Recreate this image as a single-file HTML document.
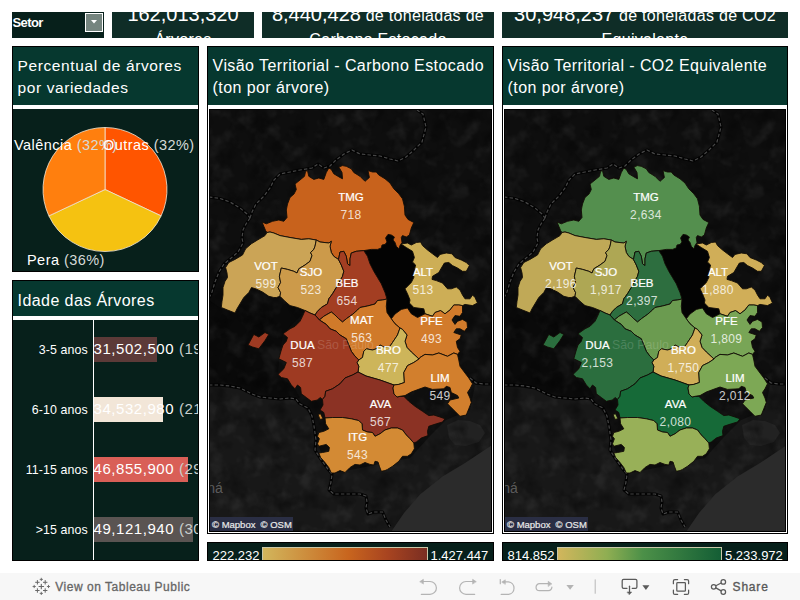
<!DOCTYPE html>
<html><head><meta charset="utf-8"><title>Dashboard</title>
<style>
*{box-sizing:border-box;margin:0;padding:0}
html,body{width:800px;height:600px;overflow:hidden;background:#fff;font-family:"Liberation Sans",sans-serif;color:#fff}
.abs{position:absolute}
.kpi{position:absolute;top:12px;height:25.75px;background:#0f2d27;overflow:hidden;text-align:center;white-space:nowrap}
.kpi .l1{position:absolute;left:0;right:0;top:-18.25px;line-height:40px;font-size:16px;letter-spacing:.3px}
.kpi .l1 b{font-weight:400;font-size:20px;letter-spacing:0}
.kpi .l2{position:absolute;left:0;right:0;top:16.2px;line-height:24px;font-size:16px;letter-spacing:.3px}
.col{position:absolute;border:1px solid #000;background:#fff;overflow:hidden}
.ttl{position:absolute;left:0;right:0;top:0;background:#06382f;font-size:16px;letter-spacing:.42px;line-height:22.5px;padding:7.5px 0 0 4.6px;white-space:nowrap}
.dark{position:absolute;left:0;right:0;background:#07201b;overflow:hidden}
.mapbox{position:absolute;left:1px;right:1px;border:1px solid #000;background:#111;overflow:hidden}
.mapsvg{position:absolute;left:-1px;top:0;font-family:"Liberation Sans",sans-serif}
.ln{font-size:11.5px;fill:#fff;text-anchor:middle;stroke:#fff;stroke-width:.2px}
.lv{font-size:12px;fill:#fff;fill-opacity:.8;text-anchor:middle;letter-spacing:.35px}
.attr{position:absolute;left:0;top:407px;width:83px;height:14px;background:#2a2e44;color:#e8e8e8;font-size:9.5px;line-height:15px;padding-left:2px;white-space:nowrap;-webkit-text-stroke:.2px #e8e8e8}
.attr span{display:inline-block;width:48.6px}
.leg{position:absolute;top:542px;height:18.75px;background:#07201b;border:1px solid #000;overflow:hidden;font-size:13px;white-space:nowrap}
.leg span{position:absolute;top:5px;line-height:15px}
.leg i{position:absolute;top:4px;height:16px;border:1px solid #c9c7a8}
.rowl{position:absolute;left:0;width:74.8px;letter-spacing:.1px;text-align:right;font-size:12.4px;line-height:14px;white-space:nowrap}
.bar{position:absolute;left:81px;height:24.5px}
.bl{position:absolute;left:80.5px;font-size:15px;letter-spacing:.56px;line-height:20px;white-space:nowrap;color:#fff}
.bl s{text-decoration:none;color:#c9cfcd}
.pl{position:absolute;font-size:14.5px;line-height:18px;white-space:nowrap;letter-spacing:.45px}
.pl s{text-decoration:none;color:#d5dad8}
#tb{position:absolute;left:0;top:573px;width:800px;height:27px;background:#f7f7f7;color:#666;font-size:12px}
.tt{line-height:14px;letter-spacing:.52px;white-space:nowrap;-webkit-text-stroke:.3px #666}
</style></head><body>

<!-- top row -->
<div class="abs" style="left:12px;top:12px;width:92px;height:25.75px;background:#07201b">
  <div class="abs" style="left:.4px;top:4px;font-size:13px;font-weight:700;line-height:14px;letter-spacing:-.55px">Setor</div>
  <div class="abs" style="left:73px;top:.6px;width:17.6px;height:19px;background:#75857f;border:1px solid #fff"></div>
  <svg class="abs" style="left:78.5px;top:8px" width="6" height="4" viewBox="0 0 6 4"><path d="M0 0H6L3 3.6Z" fill="#fff"/></svg>
</div>
<div class="kpi" style="left:112px;width:142px"><div class="l1"><b>162,013,320</b></div><div class="l2">Árvores</div></div>
<div class="kpi" style="left:262px;width:232px"><div class="l1"><b>8,440,428</b> de toneladas de</div><div class="l2">Carbono Estocado</div></div>
<div class="kpi" style="left:502px;width:286px"><div class="l1"><b>30,948,237</b> de toneladas de CO2</div><div class="l2">Equivalente</div></div>

<!-- left column: pie -->
<div class="col" style="left:12px;top:46px;width:187px;height:226px">
  <div class="ttl" style="height:58px;letter-spacing:.6px;font-size:15.5px">Percentual de árvores<br>por variedades</div>
  <div class="dark" style="top:61.5px;height:163px">
    <svg class="abs" style="left:0;top:0" width="185" height="163" viewBox="0 0 185 163">
      <g transform="translate(92,80.5)" stroke="#f3e7d6" stroke-width="0.8" stroke-linejoin="round">
        <path d="M0 0L0 -62A62 62 0 0 1 56.1 26.4Z" fill="#ff5500"/>
        <path d="M0 0L56.1 26.4A62 62 0 0 1 -56.1 26.4Z" fill="#f5c211"/>
        <path d="M0 0L-56.1 26.4A62 62 0 0 1 0 -62Z" fill="#ff7f0e"/>
      </g>
    </svg>
    <div class="pl" style="left:1px;top:27px">Valência <s>(32%)</s></div>
    <div class="pl" style="left:90px;top:27px">Outras <s>(32%)</s></div>
    <div class="pl" style="left:14px;top:142px">Pera <s>(36%)</s></div>
  </div>
</div>

<!-- left column: bars -->
<div class="col" style="left:12px;top:280px;width:187px;height:280.5px">
  <div class="ttl" style="height:34.75px;padding-top:9.2px">Idade das Árvores</div>
  <div class="dark" style="top:38.5px;height:241px">
    <div class="abs" style="left:80px;top:0;width:1px;height:241px;background:#fff"></div>
    <div class="bar" style="top:17.5px;width:62.7px;background:#5c3a38"></div>
    <div class="bar" style="top:77.7px;width:69px;background:#f2e6d8"></div>
    <div class="bar" style="top:137.6px;width:94.2px;background:#d95f57"></div>
    <div class="bar" style="top:197.7px;width:99px;background:#5a5452"></div>
    <div class="rowl" style="top:23.5px">3-5 anos</div>
    <div class="rowl" style="top:83.5px">6-10 anos</div>
    <div class="rowl" style="top:143.5px">11-15 anos</div>
    <div class="rowl" style="top:203.5px">&gt;15 anos</div>
    <div class="bl" style="top:19.5px">31,502,500 <s>(19%)</s></div>
    <div class="bl" style="top:79.5px">34,532,980 <s>(21%)</s></div>
    <div class="bl" style="top:139.5px">46,855,900 <s>(29%)</s></div>
    <div class="bl" style="top:199.5px">49,121,940 <s>(30%)</s></div>
  </div>
</div>

<!-- middle column -->
<div class="col" style="left:207px;top:46px;width:287px;height:487.5px">
  <div class="ttl" style="height:57.5px">Visão Territorial - Carbono Estocado<br>(ton por árvore)</div>
  <div class="mapbox" style="top:62px;height:423px">
<svg class="mapsvg" width="283" height="421" viewBox="0 0 283 421">
<rect x="0" y="0" width="283" height="421" fill="#0e0e0e"/>
<polygon points="0,190 13,199 26,203 43,178 71,187 96,201 74,224 70,249 69,265 86,279 91,288 51,287 31,278 0,275" fill="#0a0a0a"/>
<polygon points="0,276 31,279 51,288 87,290 103,306 107,330 121,364 201,348 219,328 237,310 261,300 266,275 283,274 283,421 0,421" fill="#181818"/>
<polygon points="238,315 249,310 261,311 271,315 276,323 270,332 257,336 246,335 240,328" fill="#222"/>
<filter id="nz" x="0" y="0" width="100%" height="100%"><feTurbulence type="fractalNoise" baseFrequency="0.055" numOctaves="3" seed="7"/><feColorMatrix type="matrix" values="0 0 0 0 1  0 0 0 0 1  0 0 0 0 1  3 0 0 0 -1.45"/></filter>
<rect x="0" y="0" width="283" height="421" filter="url(#nz)" opacity=".055"/>
<filter id="nd" x="0" y="0" width="100%" height="100%"><feTurbulence type="fractalNoise" baseFrequency="0.05" numOctaves="3" seed="19"/><feColorMatrix type="matrix" values="0 0 0 0 0  0 0 0 0 0  0 0 0 0 0  3 0 0 0 -1.45"/></filter>
<rect x="0" y="0" width="283" height="421" filter="url(#nd)" opacity=".35"/>
<polygon points="283,335 256,353 233.5,366.5 211,384.5 195,403 183,420.5 183,421 283,421" fill="#2b2b2b"/>
<path d="M0 87 L11 88.5 L21 92 L31 98 L38 104 L41 108 M41 108 L43 102 L47 94 L55 86 L61 78 L65 70 L71 64 L81 62 L91 60 L103 58 L109 54 L115 58 L121 56 L127 50 L135 44 L143 40 L151 44 L161 45 L171 46 L181 49 L189 51 L197 47 L205 40 L213 32 L217 17 L214 4 L208 0 M41 108 L37 114 L34 120 L33 128 L34 133 L29 142 L21 149 L15 154 L10 162 L6 172 L3 182 L0 188 M0 275 L11 275 L21 276 L31 278 L43 284 L51 287 L61 288 L71 289 L81 288 L87 289 L91 294 L99 298 L103 306 L105 316 L107 330 L106 340 L111 348 L118 358 L123 364 L122 372 L120 380 L125 384 L139 384 L151 384 L157 386 L158 392 L157 398 L159 404 L165 402 L173.6 402 L177 410 L181 417 M261 268 L267 273 L275 274 L283 274" fill="none" stroke="#030303" stroke-width="3" stroke-linejoin="round"/>
<path d="M0 87 L11 88.5 L21 92 L31 98 L38 104 L41 108 M41 108 L43 102 L47 94 L55 86 L61 78 L65 70 L71 64 L81 62 L91 60 L103 58 L109 54 L115 58 L121 56 L127 50 L135 44 L143 40 L151 44 L161 45 L171 46 L181 49 L189 51 L197 47 L205 40 L213 32 L217 17 L214 4 L208 0 M41 108 L37 114 L34 120 L33 128 L34 133 L29 142 L21 149 L15 154 L10 162 L6 172 L3 182 L0 188 M0 275 L11 275 L21 276 L31 278 L43 284 L51 287 L61 288 L71 289 L81 288 L87 289 L91 294 L99 298 L103 306 L105 316 L107 330 L106 340 L111 348 L118 358 L123 364 L122 372 L120 380 L125 384 L139 384 L151 384 L157 386 L158 392 L157 398 L159 404 L165 402 L173.6 402 L177 410 L181 417 M261 268 L267 273 L275 274 L283 274" fill="none" stroke="#474747" stroke-width="1.2" stroke-dasharray="3.4 2.2" stroke-linejoin="round"/>
<polygon points="154.8,140.6 162.3,139.4 168.5,139.4 172.3,138 173,135 176,134.4 178,132 176.6,128 179,124.4 182.3,125 185.4,127 184,130 186,132.5 187.3,136.3 189.8,138.8 191,135.6 192,134 197.3,137.5 203.5,141.3 205.4,147.5 203.5,152 206.6,155 204.8,162.5 204.8,167.5 202.3,172.5 196,178.8 198.5,183.8 201,190 200.4,193 204.8,197.5 214.8,198.8 216,203.8 208.5,207.5 202.3,203.8 198.5,198 192.3,199.4 186,204 182.3,208.8 178,202.5 177.3,196.3 178,189 176,182.5 172.3,173.8 168.5,167.5 164.8,161.3 161,153.8 158.5,146.3" fill="#030303" stroke="none" stroke-width="0.9" stroke-linejoin="round"/>
<polygon points="53,112 57.3,113.8 63.5,111.3 69.8,110 74.8,111.3 78,107.5 77.3,100 78.5,94 81,87.5 85,84 87.3,79.5 86,74 91,70 95.5,66.3 96.6,61.3 98.5,60.6 99.8,66.3 104.8,69.4 109.8,68 114.8,69.4 117.3,62.5 119.8,58 122.3,59.4 124.8,63.8 131,67.5 133.5,68.8 133,62.5 129.8,57 133.5,55.6 137.3,56.3 142.3,58.8 144.8,62.5 151,66.3 156,71.3 160.4,67.5 159,60.6 163.5,62 167.3,62 169.8,65 176,68.8 181,73 184.8,78.8 189.8,83.8 193.5,88.8 195.4,96.3 196,105 199,109.4 204.8,112.5 202.3,118 200.4,125 197.3,127 193.5,125.6 192.3,127.5 193,132.5 192,134 191,135.6 189.8,138.8 187.3,136.3 186,132.5 184,130 185.4,127 182.3,125 179,124.4 176.6,128 178,132 176,134.4 173,135 172.3,138 168.5,139.4 162.3,139.4 154.8,140.6 147.3,141.3 142.3,143 141,148.8 141,155.6 138.5,153.8 137.3,146.3 134.8,141.3 131,142 129.5,149.5 124.8,146.3 122.3,142.5 121,136.3 122.3,131.3 119.8,133 111,132 107.3,130 99.8,128.8 92.3,129.4 81,127.5 71,125.6 64.8,123 61,122 58,122.5 56.6,120.6 54.8,116.3" fill="#C8621C" stroke="#120c06" stroke-width="0.9" stroke-linejoin="round"/>
<polygon points="61,122 64.8,123 71,125.6 81,127.5 92.3,129.4 99.8,128.8 107.3,130 106,136.3 104.8,139.4 101.6,142.5 103,145.6 101,151.3 96,155 89.8,158.8 88,163 84.8,161.3 78.5,159.4 72.3,158 70.4,166.3 71.6,172.5 69,177.5 71.6,182.5 71,186.3 67.3,187.5 64.8,187.5 59.8,186.3 53.5,182 47.3,179 42.5,177.5 39.8,182.5 34.8,187.5 31,193.8 28,198.8 26,203 18.5,200 12.3,197.5 13,191.3 14,185 14,177.5 16,171.3 18.5,167.5 18,163 16.6,157.5 19.8,152.5 26,149.4 33.5,145 36.6,138.8 42.3,133.8 48.5,130 56,125.6 58,122.5" fill="#CBA456" stroke="#120c06" stroke-width="0.9" stroke-linejoin="round"/>
<polygon points="107.3,130 111,132 119.8,133 122.3,131.3 121,136.3 122.3,142.5 124.8,146.3 129.5,149.5 132.3,155 134.8,161.3 133.5,166.3 127.3,177.5 123.5,183.8 119.8,188.8 118.5,193.8 112.3,197.5 108.5,201.3 106,205 101,203 96,200.5 88.5,197.5 81,195.6 76,191.3 71,186.3 71.6,182.5 69,177.5 71.6,172.5 70.4,166.3 72.3,158 78.5,159.4 84.8,161.3 88,163 89.8,158.8 96,155 101,151.3 103,145.6 101.6,142.5 104.8,139.4 106,136.3" fill="#CC9A4A" stroke="#120c06" stroke-width="0.9" stroke-linejoin="round"/>
<polygon points="129.5,149.5 131,142 134.8,141.3 137.3,146.3 138.5,153.8 141,155.6 141,148.8 142.3,143 147.3,141.3 154.8,140.6 158.5,146.3 161,153.8 164.8,161.3 168.5,167.5 172.3,173.8 176,182.5 178,189 173.5,190 168.5,190.5 166,194 158.5,196 151,197.5 148.5,200 143.5,204.4 137.3,208.8 133.5,212 129.8,208.8 126,205 122.3,202 114.8,206.3 110.4,210 106,205 108.5,201.3 112.3,197.5 118.5,193.8 119.8,188.8 123.5,183.8 127.3,177.5 133.5,166.3 134.8,161.3 132.3,155" fill="#A33E22" stroke="#120c06" stroke-width="0.9" stroke-linejoin="round"/>
<polygon points="192,134 198.5,133 202.3,135 207.3,132.5 211.6,132 213.5,135.6 218.5,140 223.5,143.8 228.5,147.5 231,144.4 237.3,143 243,143.8 246,147.5 252.3,150 257.3,152.5 260.4,155.6 257.3,161.3 253.5,161.3 248.5,158 243.5,155.6 239.8,152.5 235.4,153 233,157 229.8,162.5 223.5,166.3 223,169.4 227.3,170.6 233.5,173 238.5,178.8 242.3,178.8 247.3,177 251,180 253.5,185 256,188.8 261,188.8 263.5,185 266,187.5 268.5,193 263.5,195.6 256,194.4 253.5,195.6 249.8,195 244.8,195 241,200 236,203.8 231.6,200.6 226,202.5 223.5,206.3 216,203.8 214.8,198.8 204.8,197.5 200.4,193 201,190 198.5,183.8 196,178.8 202.3,172.5 204.8,167.5 204.8,162.5 206.6,155 203.5,152 205.4,147.5 203.5,141.3 197.3,137.5" fill="#CDAE56" stroke="#120c06" stroke-width="0.9" stroke-linejoin="round"/>
<polygon points="182.3,208.8 186,204 192.3,199.4 198.5,198 202.3,203.8 208.5,207.5 216,203.8 223.5,206.3 226,202.5 231.6,200.6 236,203.8 241,200 244.8,195 249.8,195 253.5,195.6 253.5,202.5 251,206.3 246,205.6 243,210 246,214.4 248.5,211.3 253.5,209.4 258,212 258.5,217.5 255.4,221.3 251,218.8 247.3,218.8 244.8,222.5 252.3,225 251,228.8 247.3,231.3 248.5,237.5 251,241.3 248.5,244.4 244.8,243 238.5,246.3 229.8,243 223.5,245 216,244.4 211,247.5 210,249 202.3,242 198,237.5 196,231.3 198,225 193.5,219.4 191,218 186,213.8" fill="#D27B2B" stroke="#120c06" stroke-width="0.9" stroke-linejoin="round"/>
<polygon points="178,189 177.3,196.3 178,202.5 182.3,208.8 186,213.8 191,218 188.5,225 183.5,232.5 181,236.3 174.8,237 171,235 167.3,238.8 163.5,240 157.3,238.8 154.8,241.3 153.5,247.5 149.8,250 146,246.3 142.3,241.3 139.8,235 137.3,228.8 131,225 127.3,221.3 121,218.8 117.3,214.4 110.4,210 114.8,206.3 122.3,202 126,205 129.8,208.8 133.5,212 137.3,208.8 143.5,204.4 148.5,200 151,197.5 158.5,196 166,194 168.5,190.5 173.5,190" fill="#D07A2A" stroke="#120c06" stroke-width="0.9" stroke-linejoin="round"/>
<polygon points="191,218 193.5,219.4 198,225 196,231.3 198,237.5 202.3,242 210,249 204.8,252.5 198.5,255.6 194.8,262.5 195.4,272.5 189.8,274.4 185,275 178,272.5 171,270 164,268 157,266 152,263.5 149,262 149.8,256.3 148,252.5 149.8,250 153.5,247.5 154.8,241.3 157.3,238.8 163.5,240 167.3,238.8 171,235 174.8,237 181,236.3 183.5,232.5 188.5,225" fill="#CDB55A" stroke="#120c06" stroke-width="0.9" stroke-linejoin="round"/>
<polygon points="96,200.5 101,203 106,205 110.4,210 117.3,214.4 121,218.8 127.3,221.3 131,225 137.3,228.8 139.8,235 142.3,241.3 146,246.3 149.8,250 148,252.5 149.8,256.3 149,262 143.5,265 136,268 131,273.8 123.5,278.8 116.6,281.3 116,286.3 113.5,289.4 111,287.5 108.5,290 102.3,291.3 97.3,287.5 92.3,283.8 91.6,277.5 88.5,275 86,278.8 82.3,275 78.5,268.8 72.3,267.5 69,264.4 74.8,258.8 77.3,252.5 69.8,248.8 72.3,240 74,235 77.3,231.3 78.5,227.5 74,223.8 81,218.8 86,216.3 91,211.3 93.5,206.3" fill="#9E3A22" stroke="#120c06" stroke-width="0.9" stroke-linejoin="round"/>
<polygon points="113.5,289.4 116,286.3 116.6,281.3 123.5,278.8 131,273.8 136,268 143.5,265 149,262 152,263.5 157,266 164,268 171,270 178,272.5 185,275 184,278 185,284 188,287 191,286.3 194.8,286.3 199.8,291.3 206,296.3 213.5,301.3 219.8,305.6 224.8,305 231,307 236,308.8 233.5,312 227.3,313.8 219.8,316.3 218.5,321.3 219,325.6 212.3,328 207.3,332 204.8,333 201,328.8 197.3,325 193.5,320 188.5,318 182.3,318 176,320 171,323.8 166,326.3 163.5,322.5 158.5,322 153.5,320 153,313.8 149.8,310.6 142.3,308.8 133.5,307.5 123.5,307.5 116,308 114.8,302.5 111,300 114,295" fill="#8B3224" stroke="#120c06" stroke-width="0.9" stroke-linejoin="round"/>
<polygon points="116,308 123.5,307.5 133.5,307.5 142.3,308.8 149.8,310.6 153,313.8 153.5,320 158.5,322 163.5,322.5 166,326.3 171,323.8 176,320 182.3,318 188.5,318 193.5,320 197.3,325 201,328.8 204.8,333 205.4,338.8 202.3,343.8 198.5,346.3 193.5,346.3 189.8,351.3 183.5,356.3 178.5,359.4 176,360.6 172.3,361.3 170.4,356.3 169,352 166,351.3 164.8,355 161,354.4 156,352.5 151,355 146,354.4 141,357.5 136,362.5 131,360.6 126,363 122.3,363 119.8,357.5 116,352.5 111.6,347.5 109.8,343 113.5,342.5 119.8,341.3 120.4,337.5 117.3,334.4 109.8,336.3 108.5,333.8 110.4,328.8 108.5,326.3 109.8,322.5 114.8,321.3 119.8,318.8 116.6,313.8" fill="#D38A34" stroke="#120c06" stroke-width="0.9" stroke-linejoin="round"/>
<polygon points="109,304.4 111.6,303.8 114,308.8 111,309.4" fill="#D38A34" stroke="#120c06" stroke-width="0.9" stroke-linejoin="round"/>
<polygon points="210,249 211,247.5 216,244.4 223.5,245 229.8,243 238.5,246.3 244.8,243 248.5,244.4 249.8,250 251,256.3 256,263 259.8,268 263.5,273.8 261,278.8 258.5,282.5 261,288 262.3,292.5 259.8,298.8 257.3,305 251,306.3 246,301.3 241,296.3 238.5,293.8 241,290 249.8,288 248.5,285.6 242.3,282.5 241,277.5 237.3,276.3 234.8,278.8 223.5,279.4 216,277 211,278.8 202.3,282 196,285.6 191,286.3 188,287 185,284 184,278 185,275 189.8,274.4 195.4,272.5 194.8,262.5 198.5,255.6 204.8,252.5" fill="#D27F2D" stroke="#120c06" stroke-width="0.9" stroke-linejoin="round"/>
<polygon points="39,235 44.8,224.4 49.8,227 56,222.5 59.8,224.4 56,230.6 49.8,238.8 43.5,237" fill="#9E3A22" stroke="#120c06" stroke-width="0.9" stroke-linejoin="round"/>
<text x="108" y="239" font-size="12.3" fill="#fff" fill-opacity="0.17">São Paulo</text>
<text x="-1.6999999999999886" y="383" font-size="14" fill="#fff" fill-opacity="0.3">ná</text>
<text class="ln" x="142" y="91.1">TMG</text>
<text class="lv" x="142" y="109.1">718</text>
<text class="ln" x="57" y="159.7">VOT</text>
<text class="lv" x="57" y="177.7">599</text>
<text class="ln" x="102" y="166.1">SJO</text>
<text class="lv" x="102" y="184.1">523</text>
<text class="ln" x="138" y="176.6">BEB</text>
<text class="lv" x="138" y="194.6">654</text>
<text class="ln" x="214" y="166.1">ALT</text>
<text class="lv" x="214" y="184.1">513</text>
<text class="ln" x="152.8" y="214.1">MAT</text>
<text class="lv" x="152.8" y="232.1">563</text>
<text class="ln" x="222.5" y="215.1">PFE</text>
<text class="lv" x="222.5" y="233.1">493</text>
<text class="ln" x="93.5" y="238.6">DUA</text>
<text class="lv" x="93.5" y="256.6">587</text>
<text class="ln" x="179.4" y="244.1">BRO</text>
<text class="lv" x="179.4" y="262.1">477</text>
<text class="ln" x="231" y="271.6">LIM</text>
<text class="lv" x="231" y="289.6">549</text>
<text class="ln" x="171.5" y="297.8">AVA</text>
<text class="lv" x="171.5" y="315.8">567</text>
<text class="ln" x="148.5" y="330.5">ITG</text>
<text class="lv" x="148.5" y="348.5">543</text>
</svg>
    <div class="attr"><span>© Mapbox</span>© OSM</div>
  </div>
</div>
<div class="leg" style="left:207px;width:287px">
  <span style="left:4.5px">222.232</span><i style="left:54px;width:166px;background:linear-gradient(90deg,#d2b65c 0%,#c8651e 52%,#a84420 76%,#7a2e22 100%)"></i><span style="left:222.5px">1.427.447</span>
</div>

<!-- right column -->
<div class="col" style="left:502px;top:46px;width:286px;height:487.5px">
  <div class="ttl" style="height:57.5px">Visão Territorial - CO2 Equivalente<br>(ton por árvore)</div>
  <div class="mapbox" style="top:62px;height:423px">
<svg class="mapsvg" width="283" height="421" viewBox="0 0 283 421">
<rect x="0" y="0" width="283" height="421" fill="#0e0e0e"/>
<polygon points="0,190 13,199 26,203 43,178 71,187 96,201 74,224 70,249 69,265 86,279 91,288 51,287 31,278 0,275" fill="#0a0a0a"/>
<polygon points="0,276 31,279 51,288 87,290 103,306 107,330 121,364 201,348 219,328 237,310 261,300 266,275 283,274 283,421 0,421" fill="#181818"/>
<polygon points="238,315 249,310 261,311 271,315 276,323 270,332 257,336 246,335 240,328" fill="#222"/>
<filter id="nz" x="0" y="0" width="100%" height="100%"><feTurbulence type="fractalNoise" baseFrequency="0.055" numOctaves="3" seed="7"/><feColorMatrix type="matrix" values="0 0 0 0 1  0 0 0 0 1  0 0 0 0 1  3 0 0 0 -1.45"/></filter>
<rect x="0" y="0" width="283" height="421" filter="url(#nz)" opacity=".055"/>
<filter id="nd" x="0" y="0" width="100%" height="100%"><feTurbulence type="fractalNoise" baseFrequency="0.05" numOctaves="3" seed="19"/><feColorMatrix type="matrix" values="0 0 0 0 0  0 0 0 0 0  0 0 0 0 0  3 0 0 0 -1.45"/></filter>
<rect x="0" y="0" width="283" height="421" filter="url(#nd)" opacity=".35"/>
<polygon points="283,335 256,353 233.5,366.5 211,384.5 195,403 183,420.5 183,421 283,421" fill="#2b2b2b"/>
<path d="M0 87 L11 88.5 L21 92 L31 98 L38 104 L41 108 M41 108 L43 102 L47 94 L55 86 L61 78 L65 70 L71 64 L81 62 L91 60 L103 58 L109 54 L115 58 L121 56 L127 50 L135 44 L143 40 L151 44 L161 45 L171 46 L181 49 L189 51 L197 47 L205 40 L213 32 L217 17 L214 4 L208 0 M41 108 L37 114 L34 120 L33 128 L34 133 L29 142 L21 149 L15 154 L10 162 L6 172 L3 182 L0 188 M0 275 L11 275 L21 276 L31 278 L43 284 L51 287 L61 288 L71 289 L81 288 L87 289 L91 294 L99 298 L103 306 L105 316 L107 330 L106 340 L111 348 L118 358 L123 364 L122 372 L120 380 L125 384 L139 384 L151 384 L157 386 L158 392 L157 398 L159 404 L165 402 L173.6 402 L177 410 L181 417 M261 268 L267 273 L275 274 L283 274" fill="none" stroke="#030303" stroke-width="3" stroke-linejoin="round"/>
<path d="M0 87 L11 88.5 L21 92 L31 98 L38 104 L41 108 M41 108 L43 102 L47 94 L55 86 L61 78 L65 70 L71 64 L81 62 L91 60 L103 58 L109 54 L115 58 L121 56 L127 50 L135 44 L143 40 L151 44 L161 45 L171 46 L181 49 L189 51 L197 47 L205 40 L213 32 L217 17 L214 4 L208 0 M41 108 L37 114 L34 120 L33 128 L34 133 L29 142 L21 149 L15 154 L10 162 L6 172 L3 182 L0 188 M0 275 L11 275 L21 276 L31 278 L43 284 L51 287 L61 288 L71 289 L81 288 L87 289 L91 294 L99 298 L103 306 L105 316 L107 330 L106 340 L111 348 L118 358 L123 364 L122 372 L120 380 L125 384 L139 384 L151 384 L157 386 L158 392 L157 398 L159 404 L165 402 L173.6 402 L177 410 L181 417 M261 268 L267 273 L275 274 L283 274" fill="none" stroke="#474747" stroke-width="1.2" stroke-dasharray="3.4 2.2" stroke-linejoin="round"/>
<polygon points="154.8,140.6 162.3,139.4 168.5,139.4 172.3,138 173,135 176,134.4 178,132 176.6,128 179,124.4 182.3,125 185.4,127 184,130 186,132.5 187.3,136.3 189.8,138.8 191,135.6 192,134 197.3,137.5 203.5,141.3 205.4,147.5 203.5,152 206.6,155 204.8,162.5 204.8,167.5 202.3,172.5 196,178.8 198.5,183.8 201,190 200.4,193 204.8,197.5 214.8,198.8 216,203.8 208.5,207.5 202.3,203.8 198.5,198 192.3,199.4 186,204 182.3,208.8 178,202.5 177.3,196.3 178,189 176,182.5 172.3,173.8 168.5,167.5 164.8,161.3 161,153.8 158.5,146.3" fill="#030303" stroke="none" stroke-width="0.9" stroke-linejoin="round"/>
<polygon points="53,112 57.3,113.8 63.5,111.3 69.8,110 74.8,111.3 78,107.5 77.3,100 78.5,94 81,87.5 85,84 87.3,79.5 86,74 91,70 95.5,66.3 96.6,61.3 98.5,60.6 99.8,66.3 104.8,69.4 109.8,68 114.8,69.4 117.3,62.5 119.8,58 122.3,59.4 124.8,63.8 131,67.5 133.5,68.8 133,62.5 129.8,57 133.5,55.6 137.3,56.3 142.3,58.8 144.8,62.5 151,66.3 156,71.3 160.4,67.5 159,60.6 163.5,62 167.3,62 169.8,65 176,68.8 181,73 184.8,78.8 189.8,83.8 193.5,88.8 195.4,96.3 196,105 199,109.4 204.8,112.5 202.3,118 200.4,125 197.3,127 193.5,125.6 192.3,127.5 193,132.5 192,134 191,135.6 189.8,138.8 187.3,136.3 186,132.5 184,130 185.4,127 182.3,125 179,124.4 176.6,128 178,132 176,134.4 173,135 172.3,138 168.5,139.4 162.3,139.4 154.8,140.6 147.3,141.3 142.3,143 141,148.8 141,155.6 138.5,153.8 137.3,146.3 134.8,141.3 131,142 129.5,149.5 124.8,146.3 122.3,142.5 121,136.3 122.3,131.3 119.8,133 111,132 107.3,130 99.8,128.8 92.3,129.4 81,127.5 71,125.6 64.8,123 61,122 58,122.5 56.6,120.6 54.8,116.3" fill="#548F4E" stroke="#120c06" stroke-width="0.9" stroke-linejoin="round"/>
<polygon points="61,122 64.8,123 71,125.6 81,127.5 92.3,129.4 99.8,128.8 107.3,130 106,136.3 104.8,139.4 101.6,142.5 103,145.6 101,151.3 96,155 89.8,158.8 88,163 84.8,161.3 78.5,159.4 72.3,158 70.4,166.3 71.6,172.5 69,177.5 71.6,182.5 71,186.3 67.3,187.5 64.8,187.5 59.8,186.3 53.5,182 47.3,179 42.5,177.5 39.8,182.5 34.8,187.5 31,193.8 28,198.8 26,203 18.5,200 12.3,197.5 13,191.3 14,185 14,177.5 16,171.3 18.5,167.5 18,163 16.6,157.5 19.8,152.5 26,149.4 33.5,145 36.6,138.8 42.3,133.8 48.5,130 56,125.6 58,122.5" fill="#C0A957" stroke="#120c06" stroke-width="0.9" stroke-linejoin="round"/>
<polygon points="107.3,130 111,132 119.8,133 122.3,131.3 121,136.3 122.3,142.5 124.8,146.3 129.5,149.5 132.3,155 134.8,161.3 133.5,166.3 127.3,177.5 123.5,183.8 119.8,188.8 118.5,193.8 112.3,197.5 108.5,201.3 106,205 101,203 96,200.5 88.5,197.5 81,195.6 76,191.3 71,186.3 71.6,182.5 69,177.5 71.6,172.5 70.4,166.3 72.3,158 78.5,159.4 84.8,161.3 88,163 89.8,158.8 96,155 101,151.3 103,145.6 101.6,142.5 104.8,139.4 106,136.3" fill="#AEA754" stroke="#120c06" stroke-width="0.9" stroke-linejoin="round"/>
<polygon points="129.5,149.5 131,142 134.8,141.3 137.3,146.3 138.5,153.8 141,155.6 141,148.8 142.3,143 147.3,141.3 154.8,140.6 158.5,146.3 161,153.8 164.8,161.3 168.5,167.5 172.3,173.8 176,182.5 178,189 173.5,190 168.5,190.5 166,194 158.5,196 151,197.5 148.5,200 143.5,204.4 137.3,208.8 133.5,212 129.8,208.8 126,205 122.3,202 114.8,206.3 110.4,210 106,205 108.5,201.3 112.3,197.5 118.5,193.8 119.8,188.8 123.5,183.8 127.3,177.5 133.5,166.3 134.8,161.3 132.3,155" fill="#2D6E3F" stroke="#120c06" stroke-width="0.9" stroke-linejoin="round"/>
<polygon points="192,134 198.5,133 202.3,135 207.3,132.5 211.6,132 213.5,135.6 218.5,140 223.5,143.8 228.5,147.5 231,144.4 237.3,143 243,143.8 246,147.5 252.3,150 257.3,152.5 260.4,155.6 257.3,161.3 253.5,161.3 248.5,158 243.5,155.6 239.8,152.5 235.4,153 233,157 229.8,162.5 223.5,166.3 223,169.4 227.3,170.6 233.5,173 238.5,178.8 242.3,178.8 247.3,177 251,180 253.5,185 256,188.8 261,188.8 263.5,185 266,187.5 268.5,193 263.5,195.6 256,194.4 253.5,195.6 249.8,195 244.8,195 241,200 236,203.8 231.6,200.6 226,202.5 223.5,206.3 216,203.8 214.8,198.8 204.8,197.5 200.4,193 201,190 198.5,183.8 196,178.8 202.3,172.5 204.8,167.5 204.8,162.5 206.6,155 203.5,152 205.4,147.5 203.5,141.3 197.3,137.5" fill="#D0AE58" stroke="#120c06" stroke-width="0.9" stroke-linejoin="round"/>
<polygon points="182.3,208.8 186,204 192.3,199.4 198.5,198 202.3,203.8 208.5,207.5 216,203.8 223.5,206.3 226,202.5 231.6,200.6 236,203.8 241,200 244.8,195 249.8,195 253.5,195.6 253.5,202.5 251,206.3 246,205.6 243,210 246,214.4 248.5,211.3 253.5,209.4 258,212 258.5,217.5 255.4,221.3 251,218.8 247.3,218.8 244.8,222.5 252.3,225 251,228.8 247.3,231.3 248.5,237.5 251,241.3 248.5,244.4 244.8,243 238.5,246.3 229.8,243 223.5,245 216,244.4 211,247.5 210,249 202.3,242 198,237.5 196,231.3 198,225 193.5,219.4 191,218 186,213.8" fill="#78A556" stroke="#120c06" stroke-width="0.9" stroke-linejoin="round"/>
<polygon points="178,189 177.3,196.3 178,202.5 182.3,208.8 186,213.8 191,218 188.5,225 183.5,232.5 181,236.3 174.8,237 171,235 167.3,238.8 163.5,240 157.3,238.8 154.8,241.3 153.5,247.5 149.8,250 146,246.3 142.3,241.3 139.8,235 137.3,228.8 131,225 127.3,221.3 121,218.8 117.3,214.4 110.4,210 114.8,206.3 122.3,202 126,205 129.8,208.8 133.5,212 137.3,208.8 143.5,204.4 148.5,200 151,197.5 158.5,196 166,194 168.5,190.5 173.5,190" fill="#6B9B50" stroke="#120c06" stroke-width="0.9" stroke-linejoin="round"/>
<polygon points="191,218 193.5,219.4 198,225 196,231.3 198,237.5 202.3,242 210,249 204.8,252.5 198.5,255.6 194.8,262.5 195.4,272.5 189.8,274.4 185,275 178,272.5 171,270 164,268 157,266 152,263.5 149,262 149.8,256.3 148,252.5 149.8,250 153.5,247.5 154.8,241.3 157.3,238.8 163.5,240 167.3,238.8 171,235 174.8,237 181,236.3 183.5,232.5 188.5,225" fill="#D0AE58" stroke="#120c06" stroke-width="0.9" stroke-linejoin="round"/>
<polygon points="96,200.5 101,203 106,205 110.4,210 117.3,214.4 121,218.8 127.3,221.3 131,225 137.3,228.8 139.8,235 142.3,241.3 146,246.3 149.8,250 148,252.5 149.8,256.3 149,262 143.5,265 136,268 131,273.8 123.5,278.8 116.6,281.3 116,286.3 113.5,289.4 111,287.5 108.5,290 102.3,291.3 97.3,287.5 92.3,283.8 91.6,277.5 88.5,275 86,278.8 82.3,275 78.5,268.8 72.3,267.5 69,264.4 74.8,258.8 77.3,252.5 69.8,248.8 72.3,240 74,235 77.3,231.3 78.5,227.5 74,223.8 81,218.8 86,216.3 91,211.3 93.5,206.3" fill="#2B6E3E" stroke="#120c06" stroke-width="0.9" stroke-linejoin="round"/>
<polygon points="113.5,289.4 116,286.3 116.6,281.3 123.5,278.8 131,273.8 136,268 143.5,265 149,262 152,263.5 157,266 164,268 171,270 178,272.5 185,275 184,278 185,284 188,287 191,286.3 194.8,286.3 199.8,291.3 206,296.3 213.5,301.3 219.8,305.6 224.8,305 231,307 236,308.8 233.5,312 227.3,313.8 219.8,316.3 218.5,321.3 219,325.6 212.3,328 207.3,332 204.8,333 201,328.8 197.3,325 193.5,320 188.5,318 182.3,318 176,320 171,323.8 166,326.3 163.5,322.5 158.5,322 153.5,320 153,313.8 149.8,310.6 142.3,308.8 133.5,307.5 123.5,307.5 116,308 114.8,302.5 111,300 114,295" fill="#166A38" stroke="#120c06" stroke-width="0.9" stroke-linejoin="round"/>
<polygon points="116,308 123.5,307.5 133.5,307.5 142.3,308.8 149.8,310.6 153,313.8 153.5,320 158.5,322 163.5,322.5 166,326.3 171,323.8 176,320 182.3,318 188.5,318 193.5,320 197.3,325 201,328.8 204.8,333 205.4,338.8 202.3,343.8 198.5,346.3 193.5,346.3 189.8,351.3 183.5,356.3 178.5,359.4 176,360.6 172.3,361.3 170.4,356.3 169,352 166,351.3 164.8,355 161,354.4 156,352.5 151,355 146,354.4 141,357.5 136,362.5 131,360.6 126,363 122.3,363 119.8,357.5 116,352.5 111.6,347.5 109.8,343 113.5,342.5 119.8,341.3 120.4,337.5 117.3,334.4 109.8,336.3 108.5,333.8 110.4,328.8 108.5,326.3 109.8,322.5 114.8,321.3 119.8,318.8 116.6,313.8" fill="#98B058" stroke="#120c06" stroke-width="0.9" stroke-linejoin="round"/>
<polygon points="109,304.4 111.6,303.8 114,308.8 111,309.4" fill="#98B058" stroke="#120c06" stroke-width="0.9" stroke-linejoin="round"/>
<polygon points="210,249 211,247.5 216,244.4 223.5,245 229.8,243 238.5,246.3 244.8,243 248.5,244.4 249.8,250 251,256.3 256,263 259.8,268 263.5,273.8 261,278.8 258.5,282.5 261,288 262.3,292.5 259.8,298.8 257.3,305 251,306.3 246,301.3 241,296.3 238.5,293.8 241,290 249.8,288 248.5,285.6 242.3,282.5 241,277.5 237.3,276.3 234.8,278.8 223.5,279.4 216,277 211,278.8 202.3,282 196,285.6 191,286.3 188,287 185,284 184,278 185,275 189.8,274.4 195.4,272.5 194.8,262.5 198.5,255.6 204.8,252.5" fill="#7DA855" stroke="#120c06" stroke-width="0.9" stroke-linejoin="round"/>
<polygon points="39,235 44.8,224.4 49.8,227 56,222.5 59.8,224.4 56,230.6 49.8,238.8 43.5,237" fill="#2B6E3E" stroke="#120c06" stroke-width="0.9" stroke-linejoin="round"/>
<text x="108" y="239" font-size="12.3" fill="#fff" fill-opacity="0.17">São Paulo</text>
<text x="-1.6999999999999886" y="383" font-size="14" fill="#fff" fill-opacity="0.3">ná</text>
<text class="ln" x="142" y="91.1">TMG</text>
<text class="lv" x="142" y="109.1">2,634</text>
<text class="ln" x="57" y="159.7">VOT</text>
<text class="lv" x="57" y="177.7">2,196</text>
<text class="ln" x="102" y="166.1">SJO</text>
<text class="lv" x="102" y="184.1">1,917</text>
<text class="ln" x="138" y="176.6">BEB</text>
<text class="lv" x="138" y="194.6">2,397</text>
<text class="ln" x="214" y="166.1">ALT</text>
<text class="lv" x="214" y="184.1">1,880</text>
<text class="ln" x="222.5" y="215.1">PFE</text>
<text class="lv" x="222.5" y="233.1">1,809</text>
<text class="ln" x="93.5" y="238.6">DUA</text>
<text class="lv" x="93.5" y="256.6">2,153</text>
<text class="ln" x="179.4" y="244.1">BRO</text>
<text class="lv" x="179.4" y="262.1">1,750</text>
<text class="ln" x="231" y="271.6">LIM</text>
<text class="lv" x="231" y="289.6">2,012</text>
<text class="ln" x="171.5" y="297.8">AVA</text>
<text class="lv" x="171.5" y="315.8">2,080</text>
</svg>
    <div class="attr"><span>© Mapbox</span>© OSM</div>
  </div>
</div>
<div class="leg" style="left:502px;width:286px">
  <span style="left:4.5px">814.852</span><i style="left:54px;width:165px;background:linear-gradient(90deg,#d2b65c 0%,#8fae52 30%,#4c9048 52%,#145e35 100%)"></i><span style="left:222px">5.233.972</span>
</div>

<!-- toolbar -->
<div id="tb">
<svg class="abs" style="left:0;top:0" width="800" height="27" viewBox="0 0 800 27" fill="none" stroke-linecap="round" stroke-linejoin="round">
<path d="M39.00 13.50H43.60M41.30 11.20V15.80" stroke="#666" stroke-width="1.1"/>
<path d="M40.10 6.40H42.50M41.30 5.20V7.60" stroke="#666" stroke-width="0.9"/>
<path d="M40.10 20.40H42.50M41.30 19.20V21.60" stroke="#666" stroke-width="0.9"/>
<path d="M33.00 13.50H35.40M34.20 12.30V14.70" stroke="#666" stroke-width="0.9"/>
<path d="M47.30 13.50H49.70M48.50 12.30V14.70" stroke="#666" stroke-width="0.9"/>
<path d="M35.60 9.30H39.20M37.40 7.50V11.10" stroke="#666" stroke-width="1"/>
<path d="M35.60 17.50H39.20M37.40 15.70V19.30" stroke="#666" stroke-width="1"/>
<path d="M43.40 9.30H47.00M45.20 7.50V11.10" stroke="#666" stroke-width="1"/>
<path d="M43.40 17.50H47.00M45.20 15.70V19.30" stroke="#666" stroke-width="1"/>
<g stroke="#b4b4b4" stroke-width="1.2">
<path d="M421 8.5H430A6.4 6.4 0 0 1 430 21.3H421.3"/>
<path d="M420 8.5L423.4 6.3V10.7Z" fill="#b4b4b4" stroke-width=".6"/>
<path d="M475 8.5H466A6.4 6.4 0 0 0 466 21.3H474.7"/>
<path d="M476 8.5L472.6 6.3V10.7Z" fill="#b4b4b4" stroke-width=".6"/>
<path d="M500.3 6.6V10.7"/>
<path d="M503 8.9H508.5A6.3 6.3 0 0 1 508.5 21.4H501.2"/>
<path d="M502 8.9L505.3 6.8V11Z" fill="#b4b4b4" stroke-width=".6"/>
<path d="M550 10.7H539.5A3.45 3.45 0 0 0 539.5 17.6H548.5A3.45 3.45 0 0 0 551.9 14"/>
<path d="M551.6 10.7L548.2 8.3V13.1Z" fill="#b4b4b4" stroke-width=".6"/>
</g>
<path d="M566.4 12H573.8L570.1 16.8Z" fill="#b4b4b4"/>
<path d="M595.2 6.8V20.2" stroke="#bdbdbd" stroke-width="1.1"/>
<g stroke="#5a5a5a" stroke-width="1.25">
<path d="M627 15.3H623.6A1.4 1.4 0 0 1 622.2 13.9V7.8A1.4 1.4 0 0 1 623.6 6.4H635.5A1.4 1.4 0 0 1 636.9 7.8V13.9A1.4 1.4 0 0 1 635.5 15.3H632.2"/>
<path d="M629.5 13.2V19.5"/>
<path d="M627.3 19H631.7L629.5 21.6Z" fill="#5a5a5a" stroke-width=".5"/>
<path d="M673.4 10.7V8.0A1.5 1.5 0 0 1 674.9 6.5H677.6M684.4 6.5H687.1A1.5 1.5 0 0 1 688.6 8.0V10.7M688.6 17.2V19.9A1.5 1.5 0 0 1 687.1 21.4H684.4M677.6 21.4H674.9A1.5 1.5 0 0 1 673.4 19.9V17.2"/>
<rect x="676.8" y="9.7" width="8.6" height="8.5" rx=".8"/>
<circle cx="713.7" cy="13.8" r="2.3"/><circle cx="723.3" cy="8.9" r="2.3"/><circle cx="723.3" cy="19" r="2.3"/>
<path d="M715.8 12.7L721.2 10M715.8 14.9L721.2 17.9"/>
</g>
<path d="M642.4 12.3H649.4L645.9 16.9Z" fill="#5a5a5a"/>
</svg>
  <div class="abs tt" style="left:55.3px;top:6.6px">View on Tableau Public</div>
  <div class="abs tt" style="left:732.6px;top:6.6px;color:#595959;-webkit-text-stroke:.35px #595959;letter-spacing:.8px">Share</div>
</div>
</body></html>
